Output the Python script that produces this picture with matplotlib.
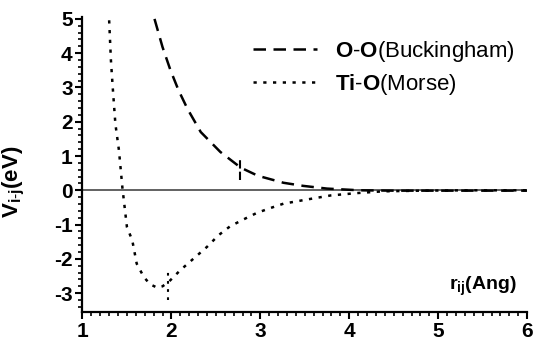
import numpy as np
import matplotlib
matplotlib.use("Agg")
import matplotlib.pyplot as plt
from matplotlib.ticker import MultipleLocator

plt.rcParams['font.family'] = ['Liberation Sans', 'DejaVu Sans']
plt.rcParams['mathtext.fontset'] = 'custom'
plt.rcParams['mathtext.rm'] = 'Liberation Sans'
plt.rcParams['mathtext.bf'] = 'Liberation Sans:bold'
plt.rcParams['mathtext.it'] = 'Liberation Sans:italic'
plt.rcParams['axes.unicode_minus'] = False

# O-O Buckingham potential
r_oo = [1.81, 1.90, 1.99, 2.08, 2.18, 2.33, 2.55, 2.78, 2.96, 3.02, 3.26, 3.48,
        3.75, 4.12, 4.5, 5.0, 5.5, 6.0]
v_oo = [5.0, 4.18, 3.5, 2.92, 2.38, 1.70, 1.12, 0.66, 0.44, 0.39, 0.22, 0.13,
        0.05, 0.0, -0.01, -0.01, -0.01, -0.01]

# Ti-O Morse potential
r_tio = [1.30, 1.32, 1.34, 1.37, 1.41, 1.45, 1.50, 1.56, 1.61, 1.69, 1.76, 1.84,
         1.90, 1.97, 2.10, 2.25, 2.40, 2.53, 2.66, 2.81, 2.96, 3.11, 3.26, 3.52,
         3.79, 4.09, 4.38, 4.8, 5.3, 6.0]
v_tio = [4.96, 3.79, 3.01, 1.94, 1.17, 0.05, -1.07, -1.46, -2.14, -2.53, -2.74, -2.84,
         -2.80, -2.67, -2.33, -1.99, -1.65, -1.31, -1.05, -0.85, -0.66, -0.52, -0.39, -0.27,
         -0.15, -0.08, -0.03, -0.01, 0.0, 0.0]

# short vertical markers
mark_oo = (2.77, 0.29, 0.93)
mark_tio = (1.96, -3.2, -2.33)

fig = plt.figure(figsize=(5.39, 3.44), dpi=100)
ax = fig.add_axes([0.153, 0.093, 0.825, 0.858])

ax.axhline(0, color='#555555', lw=1.3, zorder=1)
ax.plot(r_oo, v_oo, color='black', lw=1.8, dashes=(5, 3),
        label=r'$\mathbf{O}$-$\mathbf{O}$(Buckingham)')
ax.plot(r_tio, v_tio, color='black', lw=1.8, dashes=(1.3, 2.6),
        label=r'$\mathbf{Ti}$-$\mathbf{O}$(Morse)')
ax.vlines(mark_oo[0], mark_oo[1], mark_oo[2], color='black', lw=1.5, linestyles=(0, (4, 1.5)))
ax.vlines(mark_tio[0], mark_tio[1], mark_tio[2], color='black', lw=1.5, linestyles=(0, (1.3, 2.6)))

ax.set_xlim(1, 6)
ax.set_ylim(-3.55, 5.06)
ax.xaxis.set_major_locator(MultipleLocator(1))
ax.xaxis.set_minor_locator(MultipleLocator(0.1))
ax.yaxis.set_major_locator(MultipleLocator(1))
ax.yaxis.set_minor_locator(MultipleLocator(0.2))
ax.spines['top'].set_visible(False)
ax.spines['right'].set_visible(False)
for s in ['left', 'bottom']:
    ax.spines[s].set_linewidth(1.6)
ax.tick_params(which='major', length=5, width=1.5, labelsize=15, pad=2)
ax.tick_params(which='minor', length=3, width=1.2)
for lab in ax.get_xticklabels() + ax.get_yticklabels():
    lab.set_fontweight('bold')

ax.set_ylabel(r'V$_{\mathbf{i\text{-}j}}$(eV)', fontsize=16, fontweight='bold')
ax.yaxis.set_label_coords(-0.125, 0.44)
ax.text(0.977, 0.088, r'r$_{\mathbf{ij}}$(Ang)', transform=ax.transAxes, ha='right', va='center',
        fontsize=14, fontweight='bold')

leg = fig.legend(loc='upper left', frameon=False, fontsize=16, handlelength=2.9,
                 handletextpad=0.8, borderpad=0, borderaxespad=0, labelspacing=0.35,
                 bbox_to_anchor=(253 / 539, 1 - 39 / 344))

fig.savefig('out.png', dpi=100)
